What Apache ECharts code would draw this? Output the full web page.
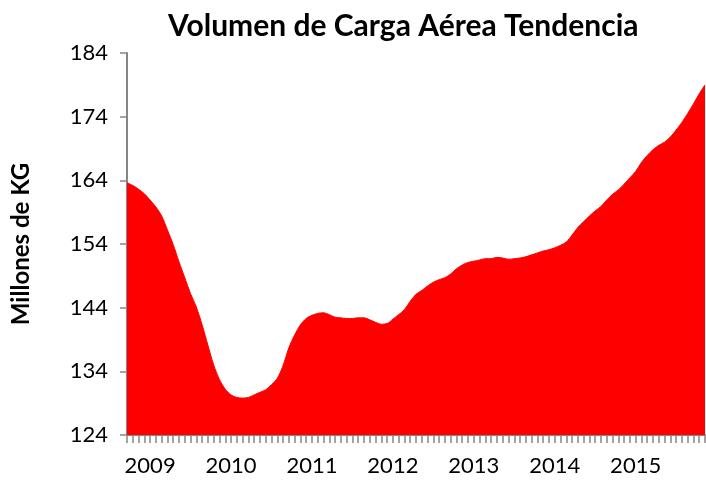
<!DOCTYPE html>
<html>
<head>
<meta charset="utf-8">
<script src="https://cdn.jsdelivr.net/npm/echarts@6/dist/echarts.min.js"></script>
<style>
  html, body { margin: 0; padding: 0; background: #fff; }
  #chart { width: 706px; height: 481px; }
</style>
</head>
<body>
<div id="chart"></div>
<script>
// volume trend, one value per category tick
const volumen = [
    163.6, 163.2, 162.6, 161.9, 160.9, 159.8, 158.4, 156.2, 153.9, 151.2,
    148.7, 146.2, 144.1, 141.3, 138.1, 135.0, 132.7, 131.2, 130.3, 129.9,
    129.8, 129.9, 130.3, 130.7, 131.1, 131.9, 132.9, 134.9, 137.7, 139.7,
    141.3, 142.3, 142.8, 143.1, 143.2, 142.9, 142.5, 142.4, 142.3, 142.3,
    142.4, 142.4, 142.1, 141.7, 141.4, 141.5, 142.2, 142.9, 143.7, 145.0,
    146.1, 146.7, 147.4, 148.0, 148.4, 148.7, 149.3, 150.1, 150.7, 151.1,
    151.3, 151.5, 151.7, 151.7, 151.9, 151.8, 151.6, 151.7, 151.8, 152.0,
    152.3, 152.6, 152.9, 153.1, 153.4, 153.8, 154.3, 155.4, 156.6, 157.5,
    158.4, 159.2, 159.9, 160.9, 161.8, 162.5, 163.4, 164.4, 165.4, 166.8,
    167.9, 168.8, 169.5, 170.0, 170.8, 171.9, 173.1, 174.5, 176.0, 177.6,
    179.0
];
const yearLabels = ['2009', '2010', '2011', '2012', '2013', '2014', '2015'];
const yearLabelIndex = [4, 18, 32, 46, 60, 74, 88];

const categories = volumen.map(function (v, i) {
    const k = yearLabelIndex.indexOf(i);
    return k >= 0 ? yearLabels[k] : '';
});

const font = 'Lato, "Open Sans", sans-serif';
const gray = '#868686';

var chart = echarts.init(document.getElementById('chart'));

chart.setOption({
    animation: false,
    title: {
        text: 'Volumen de Carga Aérea Tendencia',
        left: 163,
        top: 6,
        textStyle: { fontFamily: font, fontWeight: 'bold', fontSize: 30, color: '#000' }
    },
    grid: { left: 127, right: 1, top: 53, bottom: 46 },
    xAxis: {
        type: 'category',
        data: categories,
        boundaryGap: false,
        axisLine: { lineStyle: { color: gray, width: 2 } },
        axisTick: { interval: 0, length: 8, lineStyle: { color: gray, width: 1.5 } },
        axisLabel: {
            interval: function (i) { return yearLabelIndex.indexOf(i) >= 0; },
            margin: 20,
            fontFamily: font,
            fontSize: 22,
            color: '#000'
        }
    },
    yAxis: {
        type: 'value',
        min: 124,
        max: 184,
        interval: 10,
        name: 'Millones de KG',
        nameLocation: 'middle',
        nameRotate: 90,
        nameGap: 94,
        nameTextStyle: { fontFamily: font, fontWeight: 'bold', fontSize: 24, color: '#000' },
        splitLine: { show: false },
        axisLine: { show: true, lineStyle: { color: gray, width: 2 } },
        axisTick: { show: true, length: 7, lineStyle: { color: gray, width: 1.5 } },
        axisLabel: { margin: 19, fontFamily: font, fontSize: 22, color: '#000' }
    },
    series: [
        {
            type: 'line',
            data: volumen,
            showSymbol: false,
            smooth: 0.3,
            lineStyle: { color: '#ff0000', width: 1 },
            areaStyle: { color: '#ff0000', opacity: 1 },
            z: 1
        }
    ]
});
</script>
</body>
</html>
